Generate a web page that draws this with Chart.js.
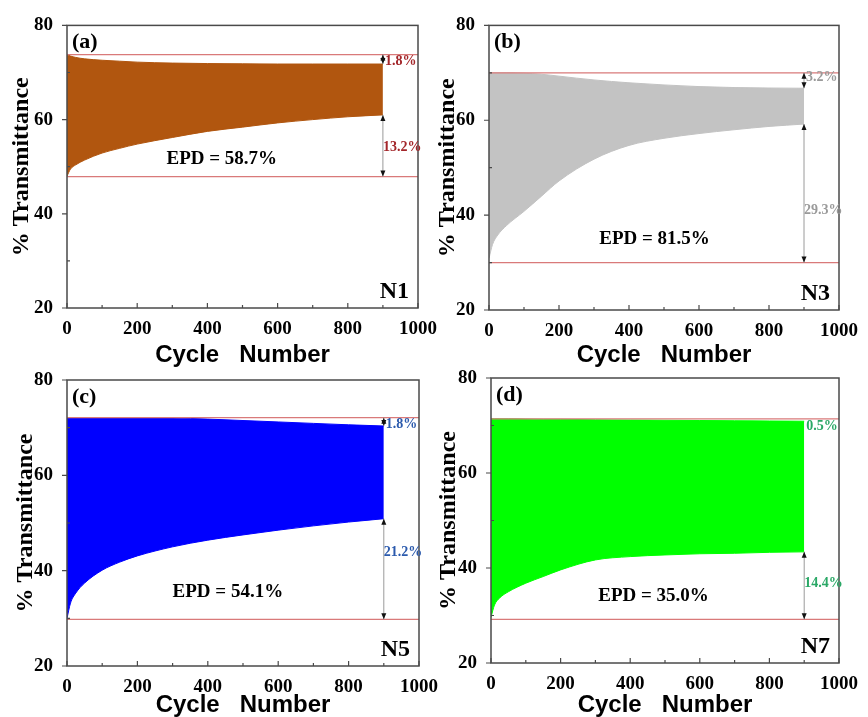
<!DOCTYPE html>
<html>
<head>
<meta charset="utf-8">
<script src="https://cdn.jsdelivr.net/npm/chart.js@4.4.1/dist/chart.umd.min.js"></script>
<style>
    body { margin: 0; background: #ffffff; }
    #wrap { position: relative; width: 868px; height: 717px; overflow: hidden; }
    canvas { position: absolute; }
</style>
</head>
<body>
<div id="wrap">
    <canvas id="chartN1"></canvas>
    <canvas id="chartN3"></canvas>
    <canvas id="chartN5"></canvas>
    <canvas id="chartN7"></canvas>
</div>
<script>
// Cycle numbers where the envelopes were read
const cycles = [0, 10, 25, 50, 100, 150, 200, 300, 400, 500, 600, 700, 800, 900];

// N1: bleached (upper) and colored (lower) transmittance envelope
const n1Upper = [73.9, 73.5, 73.2, 72.9, 72.6, 72.4, 72.2, 72.0, 71.9, 71.85, 71.8, 71.8, 71.8, 71.8];
const n1Lower = [48.0, 49.5, 50.4, 51.4, 52.9, 53.9, 54.8, 56.2, 57.5, 58.4, 59.3, 60.0, 60.6, 61.0];
const n1Ref = [73.8, 47.9];

// N3
const n3Upper = [70.0, 70.0, 70.0, 70.0, 69.9, 69.7, 69.3, 68.5, 67.9, 67.45, 67.1, 66.9, 66.8, 66.75];
const n3Lower = [30.9, 33.8, 35.8, 37.8, 40.8, 44.0, 47.2, 51.8, 54.7, 56.2, 57.2, 58.0, 58.7, 59.2];
const n3Ref = [70.0, 30.0];

// N5
const n5Upper = [72.1, 72.1, 72.1, 72.1, 72.1, 72.1, 72.1, 72.05, 71.8, 71.5, 71.2, 70.9, 70.6, 70.35];
const n5Lower = [30.0, 33.2, 35.3, 37.4, 40.1, 41.8, 43.1, 45.0, 46.4, 47.5, 48.5, 49.4, 50.2, 50.9];
const n5Ref = [72.1, 29.8];

// N7
const n7Upper = [71.4, 71.4, 71.4, 71.4, 71.35, 71.3, 71.3, 71.2, 71.15, 71.1, 71.05, 71.0, 70.95, 70.9];
const n7Lower = [29.6, 32.2, 33.7, 35.0, 36.8, 38.2, 39.6, 41.7, 42.4, 42.75, 43.0, 43.1, 43.3, 43.4];
const n7Ref = [71.4, 29.2];

// Texts
const epdLabels = ['EPD = 58.7%', 'EPD = 81.5%', 'EPD = 54.1%', 'EPD = 35.0%'];
const deltaLabels = [['1.8%', '13.2%'], ['3.2%', '29.3%'], ['1.8%', '21.2%'], ['0.5%', '14.4%']];
const panelNames = ['(a)', '(b)', '(c)', '(d)'];
const sampleNames = ['N1', 'N3', 'N5', 'N7'];

// Axis ticks
const xTicks = [0, 200, 400, 600, 800, 1000];
const yTicks = [20, 40, 60, 80];

const serif = '"Liberation Serif", "Times New Roman", serif';
const sans = '"Liberation Sans", Arial, sans-serif';
const refColor = '#d97a7a';
const frameColor = '#4a4a4a';

// Plugin: frame, inner ticks, arrows and texts
function decorPlugin(p, k) {
    return {
        id: 'decor' + k,
        afterDatasetsDraw: (chart) => {
            const ctx = chart.ctx;
            const a = chart.chartArea;
            const x = chart.scales.x;
            const y = chart.scales.y;
            ctx.save();

            // frame
            ctx.strokeStyle = frameColor;
            ctx.lineWidth = 1.5;
            ctx.strokeRect(a.left, a.top, a.right - a.left, a.bottom - a.top);

            // x ticks (inside), majors every 200, minors in between
            ctx.lineWidth = 1.2;
            ctx.beginPath();
            const xStep = (xTicks[1] - xTicks[0]) / 2;
            for (let v = xTicks[0]; v <= xTicks[xTicks.length - 1]; v += xStep) {
                const px = x.getPixelForValue(v);
                const len = (v - xTicks[0]) % (xStep * 2) === 0 ? 5 : 3;
                ctx.moveTo(px, a.bottom);
                ctx.lineTo(px, a.bottom - len);
            }
            // y ticks: majors outside, minors inside
            const yStep = (yTicks[1] - yTicks[0]) / 2;
            for (let v = yTicks[0]; v <= yTicks[yTicks.length - 1]; v += yStep) {
                const py = y.getPixelForValue(v);
                if ((v - yTicks[0]) % (yStep * 2) === 0) {
                    ctx.moveTo(a.left - 5, py);
                    ctx.lineTo(a.left, py);
                } else {
                    ctx.moveTo(a.left, py);
                    ctx.lineTo(a.left + 3, py);
                }
            }
            ctx.stroke();

            // arrows at the last cycle
            const last = cycles.length - 1;
            const ax = x.getPixelForValue(cycles[last]);
            const yRefTop = y.getPixelForValue(p.ref[0]);
            const yRefBot = y.getPixelForValue(p.ref[1]);
            const yUp = y.getPixelForValue(p.upper[last]);
            const yLow = y.getPixelForValue(p.lower[last]);
            if (p.upperArrow) drawArrow(ctx, ax, yRefTop, yUp);
            drawArrow(ctx, ax, yLow, yRefBot);

            // delta labels
            ctx.font = 'bold 14px ' + serif;
            ctx.fillStyle = p.labelColor;
            ctx.textAlign = 'left';
            ctx.textBaseline = 'middle';
            ctx.fillText(p.deltas[0], ax + 2, y.getPixelForValue(p.deltaY[0]));
            ctx.fillText(p.deltas[1], ax, y.getPixelForValue(p.deltaY[1]));

            // EPD
            ctx.fillStyle = '#000000';
            ctx.font = 'bold 19px ' + serif;
            ctx.textAlign = 'center';
            ctx.fillText(p.epd, x.getPixelForValue(p.epdPos[0]), y.getPixelForValue(p.epdPos[1]));

            // panel letter and sample name
            ctx.font = 'bold 22px ' + serif;
            ctx.textAlign = 'left';
            ctx.fillText(p.panel, a.left + 5, a.top + 17);
            ctx.font = 'bold 24px ' + serif;
            ctx.textAlign = 'right';
            ctx.fillText(p.sample, a.right - 9, a.bottom - 16);

            ctx.restore();
        }
    };
}

function drawArrow(ctx, px, yTop, yBot) {
    ctx.strokeStyle = '#9a9a9a';
    ctx.lineWidth = 1;
    ctx.beginPath();
    ctx.moveTo(px, yTop);
    ctx.lineTo(px, yBot);
    ctx.stroke();
    ctx.fillStyle = '#111111';
    ctx.beginPath();
    ctx.moveTo(px, yTop);
    ctx.lineTo(px - 2.5, yTop + 6);
    ctx.lineTo(px + 2.5, yTop + 6);
    ctx.closePath();
    ctx.fill();
    ctx.beginPath();
    ctx.moveTo(px, yBot);
    ctx.lineTo(px - 2.5, yBot - 6);
    ctx.lineTo(px + 2.5, yBot - 6);
    ctx.closePath();
    ctx.fill();
}

function makePanel(p, k) {
    const canvas = document.getElementById(p.id);
    canvas.width = p.box[2];
    canvas.height = p.box[3];
    canvas.style.left = p.box[0] + 'px';
    canvas.style.top = p.box[1] + 'px';
    const ctx = canvas.getContext('2d');

    const toPoints = (ys) => cycles.map((c, i) => ({ x: c, y: ys[i] }));
    const refLine = (v) => [{ x: xTicks[0], y: v }, { x: xTicks[xTicks.length - 1], y: v }];

    return new Chart(ctx, {
        type: 'line',
        data: {
            datasets: [
                { data: refLine(p.ref[0]), borderColor: refColor, borderWidth: 1.2, pointRadius: 0, fill: false },
                { data: refLine(p.ref[1]), borderColor: refColor, borderWidth: 1.2, pointRadius: 0, fill: false },
                {
                    data: toPoints(p.upper),
                    borderColor: p.color,
                    borderWidth: 1,
                    pointRadius: 0,
                    fill: false,
                    cubicInterpolationMode: 'monotone'
                },
                {
                    data: toPoints(p.lower),
                    borderColor: p.color,
                    backgroundColor: p.color,
                    borderWidth: 1,
                    pointRadius: 0,
                    fill: '-1',
                    cubicInterpolationMode: 'monotone'
                }
            ]
        },
        options: {
            responsive: false,
            maintainAspectRatio: false,
            animation: false,
            devicePixelRatio: 1,
            layout: {
                padding: { left: 0, top: p.padTop, right: p.padRight, bottom: 0 }
            },
            plugins: {
                legend: { display: false },
                tooltip: { enabled: false }
            },
            scales: {
                x: {
                    type: 'linear',
                    min: xTicks[0],
                    max: xTicks[xTicks.length - 1],
                    ticks: {
                        stepSize: xTicks[1] - xTicks[0],
                        autoSkip: false,
                        maxRotation: 0,
                        padding: 10,
                        color: '#000000',
                        font: { family: serif, size: 19, weight: 'bold' },
                        callback: (value) => String(value)
                    },
                    grid: { display: false, drawTicks: false },
                    border: { display: false },
                    title: {
                        display: true,
                        text: 'Cycle   Number',
                        color: '#000000',
                        font: { family: sans, size: 24, weight: 'bold', lineHeight: 1 },
                        padding: { top: 0, bottom: p.xTitlePad }
                    },
                    afterFit: (scale) => { scale.height = p.xAxisH; }
                },
                y: {
                    min: yTicks[0],
                    max: yTicks[yTicks.length - 1],
                    ticks: {
                        stepSize: yTicks[1] - yTicks[0],
                        padding: 14,
                        color: '#000000',
                        font: { family: serif, size: 19, weight: 'bold' },
                        callback: (value) => String(value)
                    },
                    grid: { display: false, drawTicks: false },
                    border: { display: false },
                    title: {
                        display: true,
                        text: '% Transmittance',
                        color: '#000000',
                        font: { family: serif, size: 24, weight: 'bold', lineHeight: 1 },
                        padding: { top: p.yTitlePad, bottom: 0 }
                    },
                    afterFit: (scale) => { scale.width = p.yAxisW; }
                }
            }
        },
        plugins: [decorPlugin(p, k)]
    });
}

// Panels: canvas box [left, top, width, height] and fitted axis sizes
const panels = [
    {
        id: 'chartN1', box: [0, 0, 450, 370], padTop: 23, padRight: 32, yAxisW: 67, xAxisH: 62,
        xTitlePad: 3, yTitlePad: 10,
        upper: n1Upper, lower: n1Lower, ref: n1Ref, color: '#b1560f', labelColor: '#a3262a',
        upperArrow: true, deltaY: [72.4, 54.1], epdPos: [441, 51.6]
    },
    {
        id: 'chartN3', box: [434, 0, 434, 370], padTop: 25, padRight: 26, yAxisW: 55, xAxisH: 60,
        xTitlePad: 3, yTitlePad: 2,
        upper: n3Upper, lower: n3Lower, ref: n3Ref, color: '#c3c3c3', labelColor: '#9a9a9a',
        upperArrow: true, deltaY: [69.1, 41.0], epdPos: [473, 35.0]
    },
    {
        id: 'chartN5', box: [0, 340, 450, 377], padTop: 40, padRight: 31, yAxisW: 67, xAxisH: 51,
        xTitlePad: 0, yTitlePad: 14,
        upper: n5Upper, lower: n5Lower, ref: n5Ref, color: '#0000ff', labelColor: '#2b5aad',
        upperArrow: true, deltaY: [70.6, 43.8], epdPos: [457, 35.6]
    },
    {
        id: 'chartN7', box: [434, 340, 434, 377], padTop: 38, padRight: 25, yAxisW: 57, xAxisH: 54,
        xTitlePad: 0, yTitlePad: 3,
        upper: n7Upper, lower: n7Lower, ref: n7Ref, color: '#00ff00', labelColor: '#2aa866',
        upperArrow: false, deltaY: [69.85, 36.8], epdPos: [467, 34.0]
    }
];

panels.forEach((p, k) => {
    p.epd = epdLabels[k];
    p.deltas = deltaLabels[k];
    p.panel = panelNames[k];
    p.sample = sampleNames[k];
    makePanel(p, k);
});
</script>
</body>
</html>
